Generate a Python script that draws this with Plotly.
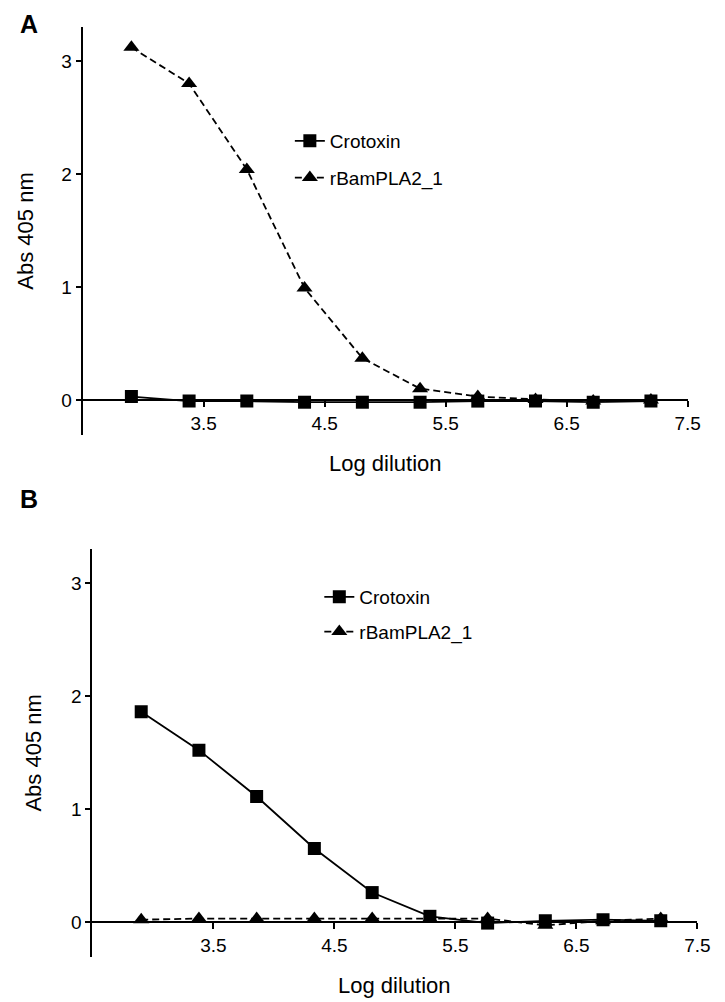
import plotly.graph_objects as go

log_dilution = [2.903, 3.380, 3.857, 4.334, 4.812, 5.289, 5.766, 6.243, 6.720, 7.197]

a_crotoxin = [0.03, -0.01, -0.01, -0.02, -0.02, -0.02, -0.01, -0.01, -0.02, -0.01]
a_rbam = [3.12, 2.80, 2.04, 0.99, 0.37, 0.10, 0.03, 0.005, -0.01, 0.0]

b_crotoxin = [1.86, 1.52, 1.11, 0.65, 0.26, 0.05, -0.01, 0.01, 0.02, 0.01]
b_rbam = [0.02, 0.03, 0.03, 0.03, 0.03, 0.03, 0.03, -0.03, 0.01, 0.03]

series_names = ["Crotoxin", "rBamPLA2_1"]
x_ticks = [3.5, 4.5, 5.5, 6.5, 7.5]
y_ticks = [0, 1, 2, 3]
x_range = [2.5, 7.5]
y_range = [-0.31, 3.3]

W, H = 725, 1002
OFF = 8  # page body margin offset
FONT = "Liberation Sans, Arial, sans-serif"

# pixel layout of the two panels in page coords: (left, right, top, bottom)
panels = {
    "A": (84, 700, 27, 435),
    "B": (94, 710, 549, 957),
}

def px(xp):
    return (xp - OFF) / W

def py(yp):
    return 1 - (yp - OFF) / H

def xdom(p):
    l, r, t, b = panels[p]
    return [px(l), px(r)]

def ydom(p):
    l, r, t, b = panels[p]
    return [py(b), py(t)]

def zero_pos(p):
    d = ydom(p)
    return d[0] + (0 - y_range[0]) / (y_range[1] - y_range[0]) * (d[1] - d[0])

fig = go.Figure()

def add_pair(cro, rb, xa, ya, leg):
    fig.add_trace(go.Scatter(
        x=log_dilution, y=cro, mode="lines+markers", name=series_names[0],
        xaxis=xa, yaxis=ya, legend=leg, legendgroup=leg + "c",
        line=dict(color="black", width=1.8),
        marker=dict(symbol="square", size=13, color="black"),
    ))
    fig.add_trace(go.Scatter(
        x=log_dilution, y=rb, mode="lines+markers", name=series_names[1],
        xaxis=xa, yaxis=ya, legend=leg, legendgroup=leg + "r",
        line=dict(color="black", width=1.8, dash="7px,4px"),
        marker=dict(symbol="triangle-up", size=14, color="black"),
    ))

add_pair(a_crotoxin, a_rbam, "x", "y", "legend")
add_pair(b_crotoxin, b_rbam, "x2", "y2", "legend2")

tickfont = dict(family=FONT, size=19, color="black")

def xaxis_cfg(p):
    return dict(
        domain=xdom(p), range=x_range, anchor="free", position=zero_pos(p),
        tickvals=x_ticks, ticktext=[str(v) for v in x_ticks],
        ticks="outside", ticklen=6, tickwidth=2, tickcolor="black",
        showline=True, linecolor="black", linewidth=2,
        showgrid=False, zeroline=False, tickfont=tickfont,
    )

def yaxis_cfg(p, xname):
    return dict(
        domain=ydom(p), range=y_range, anchor=xname,
        tickvals=y_ticks, ticks="outside", ticklen=5, tickwidth=2, tickcolor="black",
        showline=True, linecolor="black", linewidth=2,
        showgrid=False, zeroline=False, tickfont=tickfont,
    )

legfont = dict(family=FONT, size=19, color="black")

fig.update_layout(
    width=W, height=H,
    margin=dict(l=0, r=0, t=0, b=0),
    paper_bgcolor="white", plot_bgcolor="white",
    font=dict(family=FONT, color="black"),
    xaxis=xaxis_cfg("A"),
    yaxis=yaxis_cfg("A", "x"),
    xaxis2=xaxis_cfg("B"),
    yaxis2=yaxis_cfg("B", "x2"),
    legend=dict(x=px(295), y=py(122), xanchor="left", yanchor="top",
                font=legfont, bgcolor="rgba(0,0,0,0)", tracegroupgap=9,
                itemwidth=30),
    legend2=dict(x=px(325), y=py(578), xanchor="left", yanchor="top",
                 font=legfont, bgcolor="rgba(0,0,0,0)", tracegroupgap=7,
                 itemwidth=30),
    showlegend=True,
)

ann = []
# panel letters
for letter, (lx, ly) in {"A": (29, 24), "B": (29, 499)}.items():
    ann.append(dict(text="<b>%s</b>" % letter, x=px(lx), y=py(ly),
                    xref="paper", yref="paper", xanchor="center", yanchor="middle",
                    showarrow=False, font=dict(family=FONT, size=25)))
# axis titles
for p, ty, tx in [("A", 463, 25), ("B", 985, 33)]:
    l, r, t, b = panels[p]
    ann.append(dict(text="Log dilution", x=px((l + r) / 2), y=py(ty),
                    xref="paper", yref="paper", xanchor="center", yanchor="middle",
                    showarrow=False, font=dict(family=FONT, size=22)))
    ann.append(dict(text="Abs 405 nm", x=px(tx), y=py((t + b) / 2),
                    xref="paper", yref="paper", xanchor="center", yanchor="middle",
                    showarrow=False, textangle=-90,
                    font=dict(family=FONT, size=22)))
fig.update_layout(annotations=ann)

fig.write_html("out.html")
